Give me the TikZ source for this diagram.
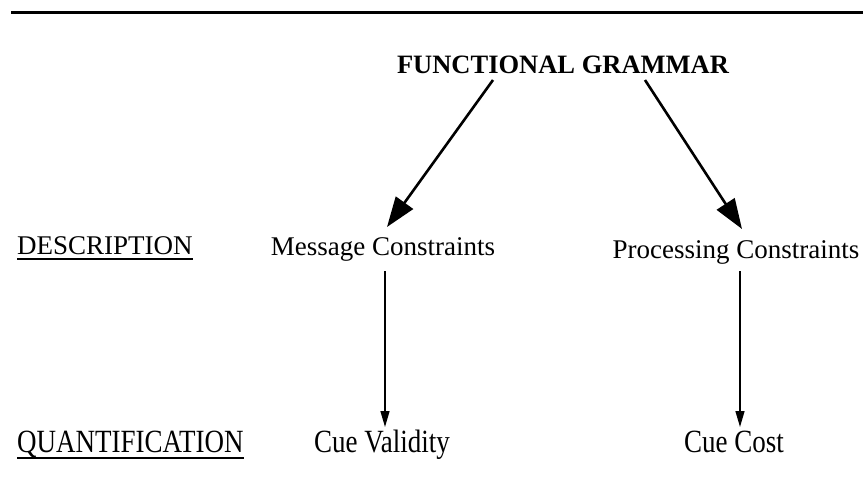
\documentclass[tikz,border=0pt]{standalone}
\usepackage{fontspec}
\setmainfont{Liberation Serif}
\usetikzlibrary{arrows.meta}

\tikzset{
  lbl/.style={anchor=base, inner sep=0pt, font=\fontsize{27}{31}\selectfont},
  tall/.style={lbl, yscale=1.2},
  heading/.style={lbl, font=\fontsize{26.5}{31}\selectfont\bfseries},
  rule/.style={line width=3pt},
  bigarrow/.style={line width=2.6pt, -{Triangle[length=30pt,width=21pt]}},
  smallarrow/.style={line width=1.4pt, -{Triangle[length=16pt,width=9pt]}},
  uline/.style={line width=1.3pt}
}

\begin{document}
\begin{tikzpicture}[x=1pt,y=-1pt]
  \useasboundingbox (0,0) rectangle (863,498);

  % top rule
  \coordinate (ruleL) at (11,12);
  \coordinate (ruleR) at (863,12);
  \draw[rule] (ruleL) -- (ruleR);

  % title
  \node[heading] (title) at (563,73) {FUNCTIONAL GRAMMAR};

  % row labels
  \node[lbl, anchor=base west] (desc) at (17,254) {DESCRIPTION};
  \draw[uline] ([yshift=-5pt]desc.base west) -- ([yshift=-5pt]desc.base east);
  \node[tall, anchor=base west] (quant) at (17,452) {QUANTIFICATION};
  \draw[uline] ([yshift=-6pt]quant.base west) -- ([yshift=-6pt]quant.base east);

  % description row
  \node[lbl] (msg) at (383,255) {Message Constraints};
  \node[lbl] (proc) at (736,258) {Processing Constraints};

  % quantification row
  \node[tall] (cval) at (382,452) {Cue Validity};
  \node[tall] (ccost) at (734,452) {Cue Cost};

  % connector end points
  \coordinate (tL) at (493,80);
  \coordinate (tR) at (645,80);
  \coordinate (mTop) at (387,227);
  \coordinate (pTop) at (742,229);
  \coordinate (mBot) at (385,271);
  \coordinate (pBot) at (740,271);
  \coordinate (vTop) at (385,427);
  \coordinate (cTop) at (740,427);

  \draw[bigarrow] (tL) -- (mTop);
  \draw[bigarrow] (tR) -- (pTop);
  \draw[smallarrow] (mBot) -- (vTop);
  \draw[smallarrow] (pBot) -- (cTop);
\end{tikzpicture}
\end{document}
